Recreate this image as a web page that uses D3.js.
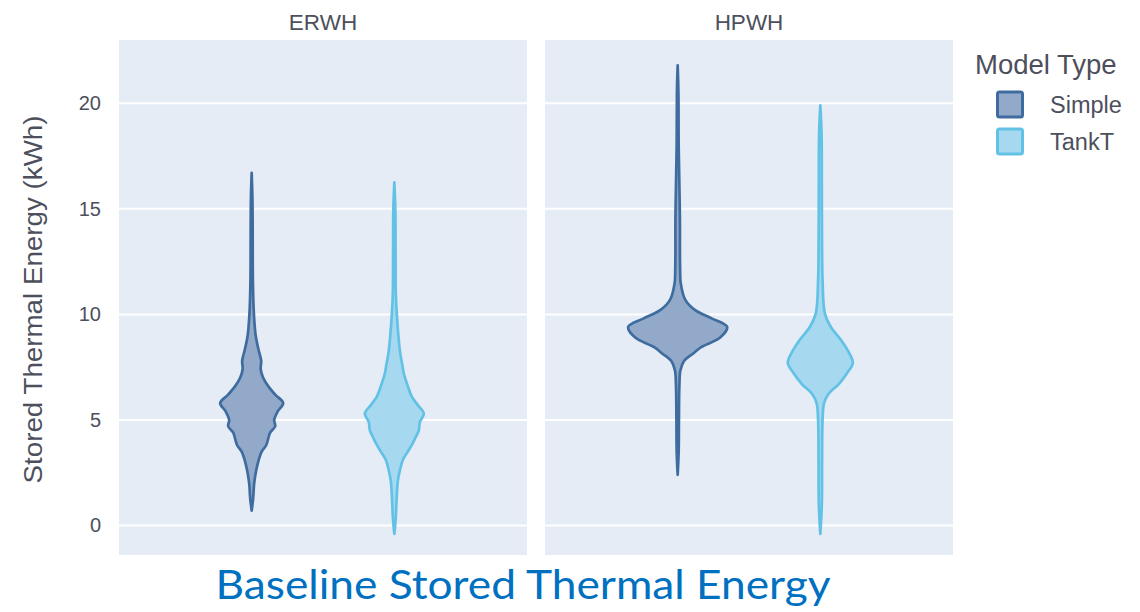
<!DOCTYPE html>
<html>
<head>
<meta charset="utf-8">
<script src="https://cdn.jsdelivr.net/npm/d3@7"></script>
<style>
  html, body { margin: 0; padding: 0; background: #fff; }
  svg { display: block; }
</style>
</head>
<body>
<svg id="chart" width="1140" height="612"></svg>
<script>
// Facets (water heater type) and series (model type)
const facets = ["ERWH", "HPWH"];
const series = ["Simple", "TankT"];
const yTicks = [0, 5, 10, 15, 20];

// Kernel density profiles: [stored energy kWh, relative density]
const erwhSimple = [
  [16.7, 0], [15.5, 0.015], [14.0, 0.02], [11.5, 0.025], [10.0, 0.045], [9.0, 0.08], [8.3, 0.14],
  [7.8, 0.19], [7.4, 0.18], [7.0, 0.23], [6.6, 0.33], [6.2, 0.47], [5.8, 0.63],
  [5.4, 0.52], [5.0, 0.45], [4.7, 0.47], [4.4, 0.37], [4.1, 0.33], [3.8, 0.29],
  [3.5, 0.2], [3.1, 0.14], [2.6, 0.09], [2.0, 0.05], [1.3, 0.03], [0.7, 0]
];
const erwhTankT = [
  [16.25, 0], [15.0, 0.02], [13.0, 0.025], [11.0, 0.03], [10.0, 0.05], [8.3, 0.11], [7.6, 0.16],
  [7.2, 0.19], [6.6, 0.27], [6.1, 0.35], [5.7, 0.47], [5.3, 0.59], [4.9, 0.51],
  [4.5, 0.49], [4.2, 0.43], [3.9, 0.37], [3.5, 0.27], [3.1, 0.17], [2.6, 0.11],
  [2.1, 0.07], [1.2, 0.045], [0.4, 0.03], [-0.4, 0]
];
const hpwhSimple = [
  [21.8, 0], [20.5, 0.015], [18.0, 0.02], [16.0, 0.035], [14.5, 0.045], [13.0, 0.045], [12.0, 0.05],
  [11.5, 0.06], [10.7, 0.15], [10.2, 0.35], [9.8, 0.69], [9.4, 0.99], [8.9, 0.85],
  [8.45, 0.47], [8.15, 0.31], [7.8, 0.13], [7.35, 0.055], [6.7, 0.035], [5.0, 0.025],
  [3.5, 0.02], [2.4, 0]
];
const hpwhTankT = [
  [19.9, 0], [18.5, 0.025], [16.0, 0.03], [13.0, 0.035], [11.6, 0.045], [10.05, 0.09], [9.4, 0.21],
  [8.8, 0.41], [8.2, 0.57], [7.7, 0.65], [7.2, 0.53], [6.7, 0.37], [6.25, 0.17],
  [5.8, 0.075], [5.0, 0.045], [3.1, 0.035], [1.0, 0.03], [-0.4, 0]
];

const profiles = {
  ERWH: { Simple: erwhSimple, TankT: erwhTankT },
  HPWH: { Simple: hpwhSimple, TankT: hpwhTankT }
};

const colors = {
  Simple: { line: "#3f6c9f", fill: "#93a9ca" },
  TankT:  { line: "#62c2e6", fill: "#a6d9ef" }
};

const svg = d3.select("#chart");
const textColor = "#4d4f5c";

const panelTop = 40, panelBottom = 555;
const panels = { ERWH: [119, 527], HPWH: [545, 953] };

const y = d3.scaleLinear().domain([-1.4, 23.0]).range([panelBottom, panelTop]);
const w = d3.scaleLinear().domain([0, 1]).range([0, 50]);

facets.forEach(f => {
  const [x0, x1] = panels[f];
  const g = svg.append("g");

  g.append("rect")
    .attr("x", x0).attr("y", panelTop)
    .attr("width", x1 - x0).attr("height", panelBottom - panelTop)
    .attr("fill", "#e5ecf6");

  // horizontal gridlines
  g.selectAll("line.grid").data(yTicks).join("line")
    .attr("class", "grid")
    .attr("x1", x0).attr("x2", x1)
    .attr("y1", d => y(d)).attr("y2", d => y(d))
    .attr("stroke", "#fff").attr("stroke-width", 2);

  // facet title
  svg.append("text")
    .attr("x", (x0 + x1) / 2).attr("y", 30)
    .attr("text-anchor", "middle")
    .attr("font-family", "Liberation Sans, Arial, sans-serif")
    .attr("font-size", 22.5)
    .attr("fill", textColor)
    .text(f);

  const x = d3.scalePoint().domain(series).range([x0, x1]).padding(0.93);

  series.forEach(s => {
    const cx = x(s);
    const area = d3.area()
      .y(d => y(d[0]))
      .x0(d => cx - w(d[1]))
      .x1(d => cx + w(d[1]))
      .curve(d3.curveCatmullRom.alpha(0.5));
    g.append("path")
      .datum(profiles[f][s])
      .attr("d", area)
      .attr("fill", colors[s].fill)
      .attr("stroke", colors[s].line)
      .attr("stroke-width", 2.7)
      .attr("stroke-linejoin", "round");
  });
});

// y axis tick labels
const yAxis = d3.axisLeft(y).tickValues(yTicks).tickSize(0).tickPadding(0);
const ay = svg.append("g")
  .attr("transform", `translate(${panels.ERWH[0] - 18},0)`)
  .call(yAxis);
ay.select(".domain").remove();
ay.selectAll("text")
  .attr("font-family", "Liberation Sans, Arial, sans-serif")
  .attr("font-size", 20)
  .attr("fill", textColor);

// y axis title
svg.append("text")
  .attr("transform", `translate(42,${(panelTop + panelBottom) / 2 + 2}) rotate(-90)`)
  .attr("text-anchor", "middle")
  .attr("font-family", "Liberation Sans, Arial, sans-serif")
  .attr("font-size", 26)
  .attr("fill", textColor)
  .attr("textLength", 368)
  .attr("lengthAdjust", "spacingAndGlyphs")
  .text("Stored Thermal Energy (kWh)");

// legend
const legend = svg.append("g").attr("transform", "translate(975,0)");
legend.append("text")
  .attr("x", 0).attr("y", 74)
  .attr("font-family", "Liberation Sans, Arial, sans-serif")
  .attr("font-size", 27.5)
  .attr("fill", textColor)
  .text("Model Type");

series.forEach((s, i) => {
  const yy = 92 + i * 37;
  legend.append("rect")
    .attr("x", 22.5).attr("y", yy)
    .attr("width", 25).attr("height", 25)
    .attr("rx", 2)
    .attr("fill", colors[s].fill)
    .attr("stroke", colors[s].line)
    .attr("stroke-width", 3);
  legend.append("text")
    .attr("x", 75).attr("y", yy + 21)
    .attr("font-family", "Liberation Sans, Arial, sans-serif")
    .attr("font-size", 23.5)
    .attr("fill", textColor)
    .text(s);
});

// chart title
svg.append("text")
  .attr("x", 523).attr("y", 599)
  .attr("text-anchor", "middle")
  .attr("font-family", "Lato, Carlito, sans-serif")
  .attr("font-size", 40)
  .attr("fill", "#0070c0")
  .attr("textLength", 615)
  .attr("lengthAdjust", "spacingAndGlyphs")
  .text("Baseline Stored Thermal Energy");
</script>
</body>
</html>
